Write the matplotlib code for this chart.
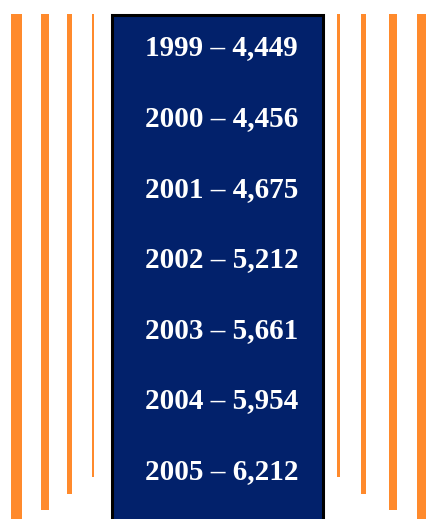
import matplotlib.pyplot as plt
from matplotlib.patches import Rectangle

years = ['1999', '2000', '2001', '2002', '2003', '2004', '2005']
values = [4449, 4456, 4675, 5212, 5661, 5954, 6212]

orange = '#FF8A2C'
navy = '#02216B'

W, H = 427, 519
fig = plt.figure(figsize=(W / 100, H / 100), dpi=100)
ax = fig.add_axes([0, 0, 1, 1])
ax.set_xlim(0, W)
ax.set_ylim(H, 0)
ax.axis('off')

# decorative stripes: (left, right, bottom)
stripes = [(11.5, 22, 525), (41, 49, 510), (67.5, 72.5, 494), (92, 94.5, 477),
           (337, 340, 477), (361, 366.5, 494), (389, 397, 510), (417, 428, 525)]
top = 13.5
for x0, x1, y1 in stripes:
    ax.add_patch(Rectangle((x0, top), x1 - x0, y1 - top, color=orange, lw=0))

# central box
ax.add_patch(Rectangle((112.5, 14.8), 211, 520, facecolor=navy,
                       edgecolor='black', lw=2.2))

y0, step = 48, 70.6
for i, (yr, v) in enumerate(zip(years, values)):
    ax.text(221.5, y0 + i * step, f'{yr} \u2013 {v:,}', color='white',
            fontsize=21, fontweight='bold', family='Liberation Serif',
            ha='center', va='center')

plt.savefig('out.png', dpi=100)
